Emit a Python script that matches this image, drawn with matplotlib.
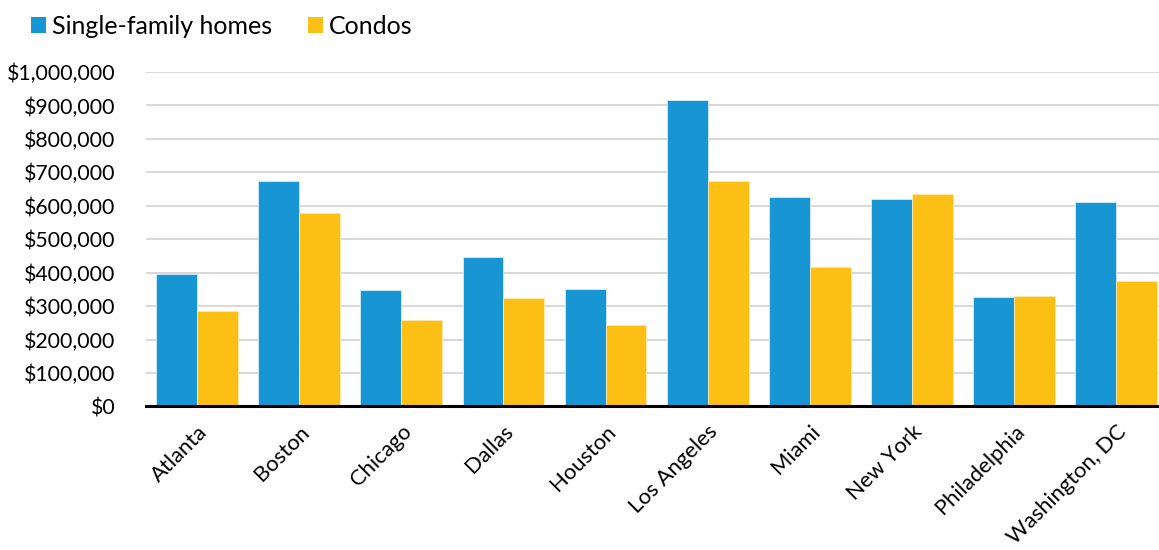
import matplotlib.pyplot as plt
import numpy as np
from matplotlib.patches import Patch
from matplotlib.ticker import FuncFormatter

plt.rcParams['font.family'] = ['Lato', 'DejaVu Sans']

# data
cities = ["Atlanta", "Boston", "Chicago", "Dallas", "Houston", "Los Angeles",
          "Miami", "New York", "Philadelphia", "Washington, DC"]
single_family = [395000, 673000, 347000, 446000, 352000, 915000,
                 625000, 619000, 328000, 611000]
condos = [285000, 579000, 259000, 324000, 245000, 675000,
          418000, 634000, 330000, 376000]

blue = "#1896D4"
yellow = "#FCBF14"

fig = plt.figure(figsize=(11.59, 5.5), dpi=100)
ax = fig.add_axes([0.126, 0.261, 0.874, 0.608])

x = np.arange(len(cities))
w = 0.4
ax.bar(x - w / 2, single_family, w, color=blue, edgecolor="#d6ecf8", linewidth=0.6, zorder=3)
ax.bar(x + w / 2, condos, w, color=yellow, edgecolor="#fbe9b5", linewidth=0.6, zorder=3)

ax.set_xlim(-0.5, 9.42)
ax.set_ylim(0, 1000000)
ax.set_yticks(np.arange(0, 1000001, 100000))
ax.yaxis.set_major_formatter(FuncFormatter(lambda v, p: f"${v:,.0f}"))
ax.grid(axis="y", color="#d9d9d9", linewidth=1.5, zorder=0)
ax.set_axisbelow(True)

for s in ["top", "right", "left"]:
    ax.spines[s].set_visible(False)
ax.spines["bottom"].set_color("black")
ax.spines["bottom"].set_linewidth(2.2)
ax.spines["bottom"].set_zorder(4)

ax.set_xticks(x)
ax.set_xticklabels(cities, rotation=45, ha="right", rotation_mode="anchor")
ax.tick_params(axis="x", length=0, pad=11, labelsize=15.8)
ax.tick_params(axis="y", length=0, pad=22, labelsize=15.3)

handles = [Patch(facecolor=blue, label="Single-family homes"),
           Patch(facecolor=yellow, label="Condos")]
fig.legend(handles=handles, loc="upper left", bbox_to_anchor=(0.014, 1.0),
           ncol=2, frameon=False, fontsize=18, handlelength=0.6, handleheight=0.6,
           handletextpad=0.25, columnspacing=1.4, borderaxespad=0.2)

fig.savefig("out.png", dpi=100, facecolor="white")
